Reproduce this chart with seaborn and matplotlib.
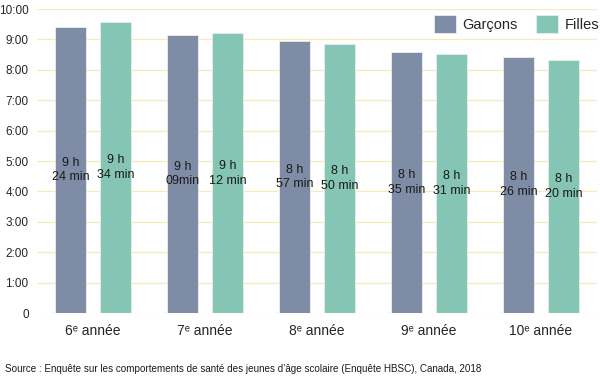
import numpy as np
import pandas as pd
import matplotlib
matplotlib.use("Agg")
import matplotlib.pyplot as plt
import seaborn as sns

# sleep duration by grade and gender (hours, minutes)
grades = ["6ᵉ année", "7ᵉ année", "8ᵉ année", "9ᵉ année", "10ᵉ année"]
boys_h = [9, 9, 8, 8, 8]
boys_m = [24, 9, 57, 35, 26]
girls_h = [9, 9, 8, 8, 8]
girls_m = [34, 12, 50, 31, 20]
boys_lbl = ["9 h\n24 min", "9 h\n09min", "8 h\n57 min", "8 h\n35 min", "8 h\n26 min"]
girls_lbl = ["9 h\n34 min", "9 h\n12 min", "8 h\n50 min", "8 h\n31 min", "8 h\n20 min"]
yticklabels = ["0", "1:00", "2:00", "3:00", "4:00", "5:00", "6:00", "7:00", "8:00", "9:00", "10:00"]

df = pd.DataFrame({
    "grade": grades * 2,
    "sexe": ["Garçons"] * 5 + ["Filles"] * 5,
    "hours": [h + m / 60 for h, m in zip(boys_h + girls_h, boys_m + girls_m)],
})

sns.set_style("white")
plt.rcParams["font.family"] = ["Liberation Sans", "DejaVu Sans"]

fig = plt.figure(figsize=(6, 3.78), dpi=100)
ax = fig.add_axes([37 / 600, 1 - 313 / 378, 560 / 600, 304 / 378])

colors = {"Garçons": "#7f8ca6", "Filles": "#85c5b4"}
sns.barplot(data=df, x="grade", y="hours", hue="sexe", palette=colors, saturation=1,
            width=0.8, gap=0.3, edgecolor="#e8eef0", linewidth=0.6, ax=ax, zorder=2)

# labels in middle of each bar
for cont, labels in zip(ax.containers, [boys_lbl, girls_lbl]):
    for bar, txt in zip(cont, labels):
        ax.text(bar.get_x() + bar.get_width() / 2, bar.get_height() / 2, txt,
                ha="center", va="center", fontsize=9, color="#1a1a1a",
                linespacing=1.3, zorder=3)

ax.set_ylim(0, 10)
ax.set_xlim(-0.5, 4.5)
ax.set_yticks(range(11))
ax.set_yticklabels(yticklabels)
ax.yaxis.grid(True, color="#f7ebb5", linewidth=0.9, zorder=0)
ax.set_axisbelow(True)
ax.tick_params(axis="y", length=0, labelsize=8.5, pad=6)
ax.tick_params(axis="x", length=0, labelsize=10, pad=8)
ax.set_xlabel("")
ax.set_ylabel("")
for s in ax.spines.values():
    s.set_visible(False)

leg = ax.legend(loc="upper right", bbox_to_anchor=(1.028, 1.022), ncol=2, frameon=False,
                fontsize=10.5, handlelength=1.5, handleheight=1.5, columnspacing=1.3,
                handletextpad=0.45)

fig.text(5 / 600, 1 - 369 / 378,
         "Source : Enquête sur les comportements de santé des jeunes d’âge scolaire (Enquête HBSC), Canada, 2018",
         fontsize=7.1, va="center", ha="left", color="#1a1a1a")

fig.savefig("out.png", dpi=100)
